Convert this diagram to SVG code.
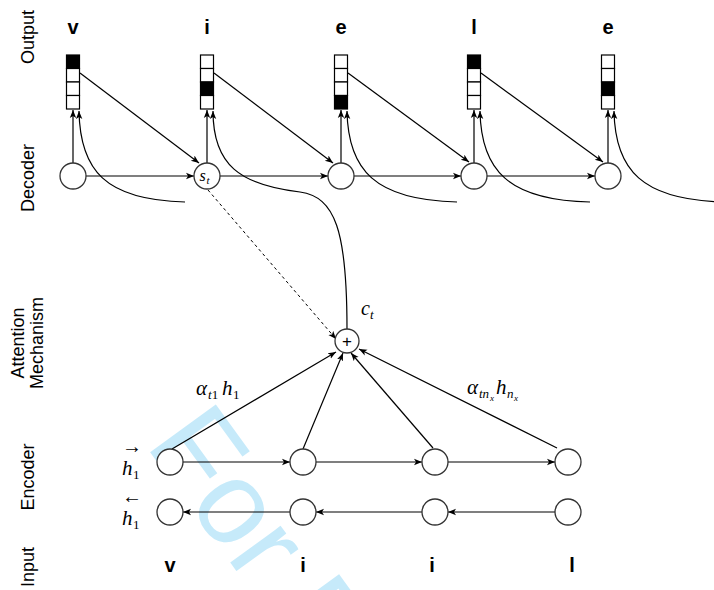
<svg xmlns="http://www.w3.org/2000/svg" width="714" height="590" viewBox="0 0 714 590">
<defs>
<marker id="arr" viewBox="0 0 10 10" refX="10" refY="5" markerWidth="8" markerHeight="8" markerUnits="userSpaceOnUse" orient="auto">
<path d="M0,1 L10,5 L0,9 L2.5,5 z" fill="#000"/>
</marker>
<style>
.lbl{font-family:"Liberation Sans",Arial,sans-serif;font-size:18px;fill:#000;text-anchor:middle}
.ch{font-family:"Liberation Sans",Arial,sans-serif;font-size:20px;font-weight:bold;fill:#000;text-anchor:middle}
.m{font-family:"Liberation Serif","Times New Roman",serif;font-style:italic;fill:#000}
.up{font-style:normal}
.node{fill:#fff;stroke:#333;stroke-width:1.3}
.cell{fill:#fff;stroke:#000;stroke-width:1.2}
.on{fill:#000}
.arw{fill:none;stroke:#000;stroke-width:1.2;marker-end:url(#arr)}
.dash{fill:none;stroke:#000;stroke-width:1;stroke-dasharray:3 3;marker-end:url(#arr)}
.wm{font-family:"Liberation Sans",Arial,sans-serif;font-size:118px;fill:#c6eafa}
</style>
</defs>
<rect width="714" height="590" fill="#fff"/>
<text class="wm" transform="translate(144.5,444.6) rotate(54)">For P</text>

<g id="row-labels">
<text class="lbl" transform="translate(34,37) rotate(-90)">Output</text>
<text class="lbl" transform="translate(34,178) rotate(-90)">Decoder</text>
<text class="lbl" transform="translate(24,343) rotate(-90)">Attention</text>
<text class="lbl" transform="translate(43,343) rotate(-90)">Mechanism</text>
<text class="lbl" transform="translate(34,477) rotate(-90)">Encoder</text>
<text class="lbl" transform="translate(34,567) rotate(-90)">Input</text>
</g>

<g id="output-chars">
<text class="ch" x="73" y="34">v</text>
<text class="ch" x="207" y="34">i</text>
<text class="ch" x="341" y="34">e</text>
<text class="ch" x="474" y="34">l</text>
<text class="ch" x="608" y="34">e</text>
</g>

<g id="connectors">
<path class="arw" d="M73 163 V110"/>
<path class="arw" d="M207 163 V110"/>
<path class="arw" d="M341 163 V110"/>
<path class="arw" d="M474 163 V110"/>
<path class="arw" d="M608 163 V110"/>
<path class="arw" d="M185 202 C105 200 80 170 79 111"/>
<path class="arw" d="M347 329 C347 230 335 197 300 192 C240 185 213 165 213 111"/>
<path class="arw" d="M457 202 C375 200 348 170 347 111"/>
<path class="arw" d="M590 202 C508 200 481 170 480 111"/>
<path class="arw" d="M724 202 C642 200 615 170 614 111"/>
<path class="arw" d="M80 73 L199 163"/>
<path class="arw" d="M214 73 L333 163"/>
<path class="arw" d="M348 73 L469 162"/>
<path class="arw" d="M481 73 L603 162"/>
<path class="arw" d="M86 176 H194"/>
<path class="arw" d="M220 176 H328"/>
<path class="arw" d="M354 176 H461"/>
<path class="arw" d="M487 176 H595"/>
<path class="dash" d="M208 190 L336 339"/>
<path class="arw" d="M172 449 L336 352"/>
<path class="arw" d="M303 449 L343 353"/>
<path class="arw" d="M433 448 L351 353"/>
<path class="arw" d="M557 448 L359 349"/>
<path class="arw" d="M183 462 H290"/>
<path class="arw" d="M316 462 H422"/>
<path class="arw" d="M448 462 H555"/>
<path class="arw" d="M555 512 H448"/>
<path class="arw" d="M422 512 H316"/>
<path class="arw" d="M290 512 H183"/>
</g>

<g id="out-vec-1">
<rect class="cell on" x="66.5" y="55" width="13" height="13.5"/>
<rect class="cell" x="66.5" y="68.5" width="13" height="13.5"/>
<rect class="cell" x="66.5" y="82" width="13" height="13.5"/>
<rect class="cell" x="66.5" y="95.5" width="13" height="13.5"/>
</g>
<g id="out-vec-2">
<rect class="cell" x="200.5" y="55" width="13" height="13.5"/>
<rect class="cell" x="200.5" y="68.5" width="13" height="13.5"/>
<rect class="cell on" x="200.5" y="82" width="13" height="13.5"/>
<rect class="cell" x="200.5" y="95.5" width="13" height="13.5"/>
</g>
<g id="out-vec-3">
<rect class="cell" x="334.5" y="55" width="13" height="13.5"/>
<rect class="cell" x="334.5" y="68.5" width="13" height="13.5"/>
<rect class="cell" x="334.5" y="82" width="13" height="13.5"/>
<rect class="cell on" x="334.5" y="95.5" width="13" height="13.5"/>
</g>
<g id="out-vec-4">
<rect class="cell on" x="467.5" y="55" width="13" height="13.5"/>
<rect class="cell" x="467.5" y="68.5" width="13" height="13.5"/>
<rect class="cell" x="467.5" y="82" width="13" height="13.5"/>
<rect class="cell" x="467.5" y="95.5" width="13" height="13.5"/>
</g>
<g id="out-vec-5">
<rect class="cell" x="601.5" y="55" width="13" height="13.5"/>
<rect class="cell" x="601.5" y="68.5" width="13" height="13.5"/>
<rect class="cell on" x="601.5" y="82" width="13" height="13.5"/>
<rect class="cell" x="601.5" y="95.5" width="13" height="13.5"/>
</g>

<g id="dec-1"><circle class="node" cx="73" cy="176" r="13"/></g>
<g id="dec-2"><circle class="node" cx="207" cy="176" r="13"/>
<text class="m" font-size="16" x="199.5" y="181">s</text><text class="m" font-size="11" x="206.5" y="184">t</text></g>
<g id="dec-3"><circle class="node" cx="341" cy="176" r="13"/></g>
<g id="dec-4"><circle class="node" cx="474" cy="176" r="13"/></g>
<g id="dec-5"><circle class="node" cx="608" cy="176" r="13"/></g>

<g id="attention">
<circle class="node" cx="347" cy="341" r="12"/>
<text x="347" y="347" font-family="Liberation Sans,Arial,sans-serif" font-size="17" text-anchor="middle">+</text>
<text class="m" font-size="20" x="361" y="315">c</text><text class="m" font-size="13" x="370" y="319">t</text>
</g>

<g id="weights">
<text class="m" font-size="21" x="196" y="395">α</text>
<text class="m" font-size="13" x="208" y="399">t<tspan class="up">1</tspan></text>
<text class="m" font-size="21" x="222" y="395">h</text>
<text class="m up" font-size="13" x="233" y="399">1</text>
<text class="m" font-size="21" x="467" y="394">α</text>
<text class="m" font-size="13" x="479" y="398">tn</text>
<text class="m" font-size="9" x="490" y="401">x</text>
<text class="m" font-size="21" x="496" y="394">h</text>
<text class="m" font-size="13" x="507" y="398">n</text>
<text class="m" font-size="9" x="514" y="401">x</text>
</g>

<g id="enc-labels">
<text class="m up" font-size="20" x="122" y="453" textLength="20" lengthAdjust="spacingAndGlyphs">→</text>
<text class="m" font-size="21" x="122" y="475">h</text>
<text class="m up" font-size="13" x="133" y="479">1</text>
<text class="m up" font-size="20" x="122" y="503" textLength="20" lengthAdjust="spacingAndGlyphs">←</text>
<text class="m" font-size="21" x="122" y="525">h</text>
<text class="m up" font-size="13" x="133" y="529">1</text>
</g>

<g id="enc-f1"><circle class="node" cx="170" cy="462" r="13"/></g>
<g id="enc-f2"><circle class="node" cx="303" cy="462" r="13"/></g>
<g id="enc-f3"><circle class="node" cx="435" cy="462" r="13"/></g>
<g id="enc-f4"><circle class="node" cx="568" cy="462" r="13"/></g>
<g id="enc-b1"><circle class="node" cx="170" cy="512" r="13"/></g>
<g id="enc-b2"><circle class="node" cx="303" cy="512" r="13"/></g>
<g id="enc-b3"><circle class="node" cx="435" cy="512" r="13"/></g>
<g id="enc-b4"><circle class="node" cx="568" cy="512" r="13"/></g>

<g id="input-chars">
<text class="ch" x="170" y="572">v</text>
<text class="ch" x="303" y="572">i</text>
<text class="ch" x="432" y="572">i</text>
<text class="ch" x="572" y="572">l</text>
</g>
</svg>
